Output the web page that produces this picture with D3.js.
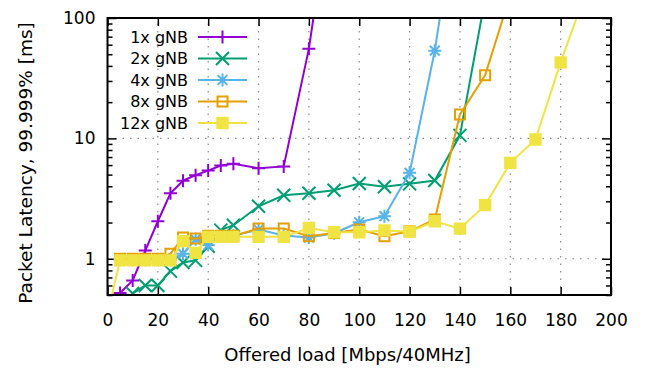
<!DOCTYPE html>
<html>
<head>
<meta charset="utf-8">
<script src="https://cdn.jsdelivr.net/npm/d3@7"></script>
<style>
body { margin: 0; background: #fff; }
text { font-family: "DejaVu Sans", sans-serif; fill: #000; }
</style>
</head>
<body>
<div id="chart"></div>
<script>
// series data
var gnb1_x = [5, 10, 15, 20, 25, 30, 35, 40, 45, 50, 60, 70, 80, 90];
var gnb1_y = [0.52, 0.66, 1.17, 2.05, 3.5, 4.45, 4.95, 5.4, 5.95, 6.15, 5.65, 5.85, 55.6, 1450];

var gnb2_x = [10, 15, 20, 25, 30, 35, 40, 45, 50, 60, 70, 80, 90, 100, 110, 120, 130, 140, 150];
var gnb2_y = [0.515, 0.6, 0.6, 0.79, 0.93, 0.97, 1.27, 1.73, 1.9, 2.73, 3.37, 3.5, 3.71, 4.22, 3.96, 4.19, 4.47, 10.6, 145];

var gnb4_x = [5, 10, 15, 20, 25, 30, 35, 40, 45, 50, 60, 70, 80, 90, 100, 110, 120, 130, 140];
var gnb4_y = [0.98, 0.98, 0.98, 0.98, 0.98, 1.1, 1.45, 1.3, 1.55, 1.55, 1.75, 1.56, 1.5, 1.63, 2.01, 2.26, 5.17, 53.5, 1200];

var gnb8_x = [5, 10, 15, 20, 25, 30, 35, 40, 45, 50, 60, 70, 80, 90, 100, 110, 120, 130, 140, 150, 160];
var gnb8_y = [1.0, 1.0, 1.0, 1.0, 1.1, 1.5, 1.47, 1.55, 1.55, 1.55, 1.78, 1.78, 1.54, 1.64, 1.75, 1.54, 1.69, 2.12, 15.8, 33.4, 155];

var gnb12_x = [1, 5, 10, 15, 20, 25, 30, 35, 40, 45, 50, 60, 70, 80, 90, 100, 110, 120, 130, 140, 150, 160, 170, 180, 190];
var gnb12_y = [0.43, 0.97, 0.97, 0.97, 0.97, 0.97, 1.4, 1.12, 1.52, 1.52, 1.52, 1.52, 1.52, 1.8, 1.66, 1.66, 1.72, 1.68, 2.05, 1.78, 2.79, 6.26, 9.78, 42.8, 164];

var seriesNames = ["1x gNB", "2x gNB", "4x gNB", "8x gNB", "12x gNB"];
var xTicks = [0, 20, 40, 60, 80, 100, 120, 140, 160, 180, 200];
var yTicks = [1, 10, 100];

var series = [
  {name: seriesNames[0], xs: gnb1_x, ys: gnb1_y, color: "#9400d3", mark: "plus"},
  {name: seriesNames[1], xs: gnb2_x, ys: gnb2_y, color: "#009e73", mark: "cross"},
  {name: seriesNames[2], xs: gnb4_x, ys: gnb4_y, color: "#56b4e9", mark: "star"},
  {name: seriesNames[3], xs: gnb8_x, ys: gnb8_y, color: "#e69f00", mark: "box"},
  {name: seriesNames[4], xs: gnb12_x, ys: gnb12_y, color: "#f0e442", mark: "fbox"}
];

var W = 646, H = 371;
var L = 107.5, R = 611, T = 18, B = 295;

var svg = d3.select("#chart").append("svg")
  .attr("width", W).attr("height", H);

var x = d3.scaleLinear().domain([0, 200]).range([L, R]);
var y = d3.scaleLog().domain([0.5, 100]).range([B, T]);

svg.append("clipPath").attr("id", "plotclip")
  .append("rect").attr("x", L).attr("y", T).attr("width", R - L).attr("height", B - T);

// grid
var grid = svg.append("g").attr("stroke", "#8a8a8a").attr("stroke-width", 1.2)
  .attr("stroke-dasharray", "1.5,6");
grid.selectAll("line.vx").data(xTicks.slice(1, -1)).enter().append("line")
  .attr("x1", function(d) { return x(d) }).attr("x2", function(d) { return x(d) })
  .attr("y1", B).attr("y2", T);
grid.selectAll("line.hy").data([1, 10]).enter().append("line")
  .attr("y1", function(d) { return y(d) }).attr("y2", function(d) { return y(d) })
  .attr("x1", L).attr("x2", R);

// minor log ticks
var minor = [];
[0.1, 1, 10].forEach(function(dec) {
  for (var k = 2; k <= 9; k++) {
    var v = k * dec;
    if (v >= 0.5 && v < 100) minor.push(v);
  }
});

function styleAxis(g) {
  g.select(".domain").remove();
  g.selectAll(".tick line").attr("stroke", "#000").attr("stroke-width", 1.5);
  g.selectAll("text").style("font-size", "17px").attr("fill", "#000");
}

svg.append("g").attr("transform", "translate(0," + B + ")")
  .call(d3.axisBottom(x).tickValues(xTicks).tickSize(-8).tickPadding(19).tickFormat(d3.format("d")))
  .call(styleAxis)
  .selectAll("text").attr("dy", "0.71em");
svg.selectAll("g").filter(function() { return false });

svg.append("g").attr("transform", "translate(0," + T + ")")
  .call(d3.axisTop(x).tickValues(xTicks).tickSize(-8).tickFormat(""))
  .call(styleAxis);

svg.append("g").attr("transform", "translate(" + L + ",0)")
  .call(d3.axisLeft(y).tickValues(yTicks).tickSize(-9).tickPadding(12).tickFormat(d3.format("d")))
  .call(styleAxis);
svg.append("g").attr("transform", "translate(" + L + ",0)")
  .call(d3.axisLeft(y).tickValues(minor).tickSize(-5).tickFormat(""))
  .call(styleAxis);
svg.append("g").attr("transform", "translate(" + R + ",0)")
  .call(d3.axisRight(y).tickValues(yTicks).tickSize(-9).tickFormat(""))
  .call(styleAxis);
svg.append("g").attr("transform", "translate(" + R + ",0)")
  .call(d3.axisRight(y).tickValues(minor).tickSize(-5).tickFormat(""))
  .call(styleAxis);

// markers
function markerPath(type) {
  var s = 6.5;
  if (type == "plus") return "M" + (-s) + ",0H" + s + "M0," + (-s) + "V" + s;
  if (type == "cross") return "M" + (-s) + "," + (-s) + "L" + s + "," + s + "M" + (-s) + "," + s + "L" + s + "," + (-s);
  if (type == "star") return "M" + (-s) + ",0H" + s + "M0," + (-s) + "V" + s +
    "M" + (-s * 0.75) + "," + (-s * 0.75) + "L" + (s * 0.75) + "," + (s * 0.75) +
    "M" + (-s * 0.75) + "," + (s * 0.75) + "L" + (s * 0.75) + "," + (-s * 0.75);
  if (type == "box") return "M-5,-5H5V5H-5Z";
  return "M-6.2,-6.2H6.2V6.2H-6.2Z";
}
function drawMarker(sel, type, color) {
  sel.append("path")
    .attr("d", markerPath(type))
    .attr("fill", type == "fbox" ? color : "none")
    .attr("stroke", type == "fbox" ? "none" : color)
    .attr("stroke-width", 2);
}

var line = d3.line()
  .x(function(d) { return x(d[0]) })
  .y(function(d) { return y(d[1]) });

var plot = svg.append("g").attr("clip-path", "url(#plotclip)");
series.forEach(function(s) {
  var pts = s.xs.map(function(v, i) { return [v, s.ys[i]] });
  var g = plot.append("g");
  g.append("path").datum(pts)
    .attr("fill", "none")
    .attr("stroke", s.color)
    .attr("stroke-width", 2)
    .attr("d", line);
  g.selectAll("g.pt").data(pts).enter().append("g")
    .attr("transform", function(d) { return "translate(" + x(d[0]) + "," + y(d[1]) + ")" })
    .each(function() { drawMarker(d3.select(this), s.mark, s.color) });
});

// frame
svg.append("rect").attr("x", L).attr("y", T).attr("width", R - L).attr("height", B - T)
  .attr("fill", "none").attr("stroke", "#000").attr("stroke-width", 2);

// legend
var legend = svg.append("g");
series.forEach(function(s, i) {
  var ly = 37 + i * 21.5;
  legend.append("text").attr("x", 188).attr("y", ly + 5.5)
    .attr("text-anchor", "end").style("font-size", "16px").text(s.name);
  legend.append("line").attr("x1", 198).attr("x2", 247).attr("y1", ly).attr("y2", ly)
    .attr("stroke", s.color).attr("stroke-width", 2);
  drawMarker(legend.append("g").attr("transform", "translate(222.5," + ly + ")"), s.mark, s.color);
});

// axis titles
svg.append("text").attr("x", 347.5).attr("y", 361).attr("text-anchor", "middle")
  .style("font-size", "18px").text("Offered load [Mbps/40MHz]");
svg.append("text").attr("transform", "translate(32,163) rotate(-90)").attr("text-anchor", "middle")
  .style("font-size", "18.5px").text("Packet Latency, 99.999% [ms]");
</script>
</body>
</html>
